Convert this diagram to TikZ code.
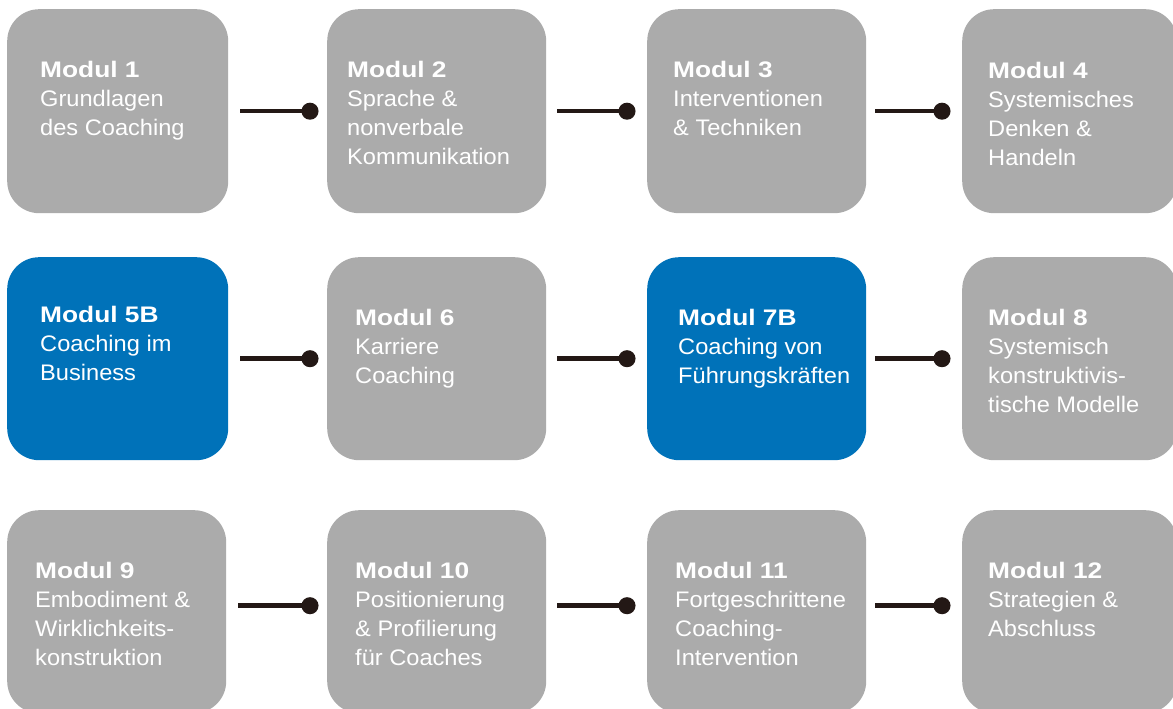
\documentclass[tikz,border=0pt]{standalone}
\usepackage{fontspec}
\setmainfont{Liberation Sans}[FakeStretch=1.05,BoldFeatures={FakeStretch=1.17}]
\usetikzlibrary{arrows.meta}
\definecolor{modgray}{HTML}{ABABAB}
\definecolor{modblue}{HTML}{0072B9}
\definecolor{linkink}{HTML}{231815}

\begin{document}
\begin{tikzpicture}[x=1pt,y=1pt,yscale=-1,xscale=1,
	modbox/.style={fill=modgray, draw=none, rounded corners=32pt, anchor=north west, inner sep=0pt, minimum width=219pt, minimum height=203pt},
	modbluebox/.style={modbox, fill=modblue},
	modtext/.style={anchor=north west, inner sep=0pt, align=left, text=white, font=\fontsize{22.5}{29}\selectfont},
	link/.style={line width=4.5pt, color=linkink, -{Circle[length=17pt,width=17pt]}}]
	%set diagram frame to 1173 x 709
	\useasboundingbox (0,0) rectangle (1173,709);

	%Shape: Rounded Rect, row 1
	\node [modbox, minimum width=221pt, minimum height=204pt] (m1) at (7,9) {};
	\node [modbox, minimum height=204pt] (m2) at (327,9) {};
	\node [modbox, minimum height=204pt] (m3) at (647,9) {};
	\node [modbox, minimum width=215pt, minimum height=204pt] (m4) at (962,9) {};
	%Shape: Rounded Rect, row 2
	\node [modbluebox, minimum width=221pt] (m5) at (7,257) {};
	\node [modbox] (m6) at (327,257) {};
	\node [modbluebox] (m7) at (647,257) {};
	\node [modbox, minimum width=215pt] (m8) at (962,257) {};
	%Shape: Rounded Rect, row 3
	\node [modbox] (m9) at (7,510) {};
	\node [modbox] (m10) at (327,510) {};
	\node [modbox] (m11) at (647,510) {};
	\node [modbox, minimum width=215pt] (m12) at (962,510) {};

	%Straight Lines with dot
	\draw [link] ([xshift=12pt]m1.east) -- ([xshift=-8.5pt]m2.west);
	\draw [link] ([xshift=11pt]m2.east) -- ([xshift=-11.5pt]m3.west);
	\draw [link] ([xshift=9pt]m3.east) -- ([xshift=-11.5pt]m4.west);
	\draw [link] ([xshift=12pt]m5.east) -- ([xshift=-8.5pt]m6.west);
	\draw [link] ([xshift=11pt]m6.east) -- ([xshift=-11.5pt]m7.west);
	\draw [link] ([xshift=9pt]m7.east) -- ([xshift=-11.5pt]m8.west);
	\draw [link] ([shift={(12,-6)}]m9.east) -- ([shift={(-8.5,-6)}]m10.west);
	\draw [link] ([shift={(11,-6)}]m10.east) -- ([shift={(-11.5,-6)}]m11.west);
	\draw [link] ([shift={(9,-6)}]m11.east) -- ([shift={(-11.5,-6)}]m12.west);

	% Text Node
	\node [modtext] (t1) at (40,61) {\textbf{Modul 1}\\Grundlagen\\des Coaching};
	% Text Node
	\node [modtext] (t2) at (347,61) {\textbf{Modul 2}\\Sprache \&\\nonverbale\\Kommunikation};
	% Text Node
	\node [modtext] (t3) at (673,61) {\textbf{Modul 3}\\Interventionen\\\& Techniken};
	% Text Node
	\node [modtext] (t4) at (988,62) {\textbf{Modul 4}\\Systemisches\\Denken \&\\Handeln};
	% Text Node
	\node [modtext] (t5) at (40,306) {\textbf{Modul 5B}\\Coaching im\\Business};
	% Text Node
	\node [modtext] (t6) at (355,309) {\textbf{Modul 6}\\Karriere\\Coaching};
	% Text Node
	\node [modtext] (t7) at (678,309) {\textbf{Modul 7B}\\Coaching von\\Führungskräften};
	% Text Node
	\node [modtext] (t8) at (988,309) {\textbf{Modul 8}\\Systemisch\\konstruktivis-\\tische Modelle};
	% Text Node
	\node [modtext] (t9) at (35,562) {\textbf{Modul 9}\\Embodiment \&\\Wirklichkeits-\\konstruktion};
	% Text Node
	\node [modtext] (t10) at (355,562) {\textbf{Modul 10}\\Positionierung\\\& Profilierung\\für Coaches};
	% Text Node
	\node [modtext] (t11) at (675,562) {\textbf{Modul 11}\\Fortgeschrittene\\Coaching-\\Intervention};
	% Text Node
	\node [modtext] (t12) at (988,562) {\textbf{Modul 12}\\Strategien \&\\Abschluss};

\end{tikzpicture}
\end{document}
